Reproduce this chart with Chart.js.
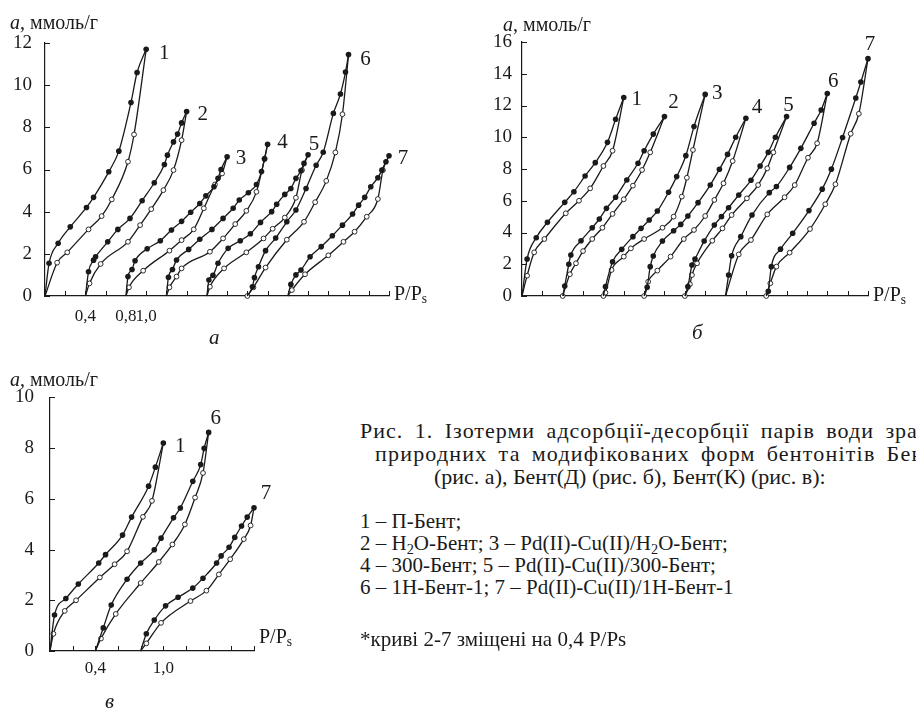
<!DOCTYPE html>
<html lang="uk">
<head>
<meta charset="utf-8">
<title>Ізотерми адсорбції-десорбції парів води</title>
<script src="https://cdn.jsdelivr.net/npm/chart.js@4/dist/chart.umd.min.js"></script>
<style>
    body {
        margin: 0;
        width: 916px;
        height: 710px;
        position: relative;
        overflow: hidden;
        background: #fff;
        color: #1a1a1a;
        font-family: "Liberation Serif", "Times New Roman", serif;
    }
    canvas { position: absolute; }
    .txt { position: absolute; white-space: nowrap; line-height: 1; font-size: 20px; }
    .letra { position: absolute; font-style: italic; font-size: 21px; line-height: 1; }
    .legenda { position: absolute; left: 360px; white-space: nowrap; font-size: 21px; line-height: 22px; }
    .titulo { position: absolute; white-space: nowrap; font-size: 22px; line-height: 23px; }
    sub { font-size: 68%; vertical-align: -0.25em; line-height: 0; }
</style>
</head>
<body>
<canvas id="graficoA" width="430" height="345" style="left:0;top:0"></canvas>
<canvas id="graficoB" width="456" height="345" style="left:460px;top:0"></canvas>
<canvas id="graficoC" width="300" height="340" style="left:0;top:370px"></canvas>

<div class="txt" style="left:10px;top:12px"><i>a</i>, ммоль/г</div>
<div class="txt" style="left:503px;top:14px"><i>a</i>, ммоль/г</div>
<div class="txt" style="left:10px;top:369px"><i>a</i>, ммоль/г</div>

<div class="txt" style="left:394px;top:283px">P/P<sub>s</sub></div>
<div class="txt" style="left:873px;top:284px">P/P<sub>s</sub></div>
<div class="txt" style="left:259px;top:626px">P/P<sub>s</sub></div>

<div class="letra" style="left:209px;top:327px">а</div>
<div class="letra" style="left:692px;top:322px">б</div>
<div class="letra" style="left:105px;top:691px">в</div>

<div class="titulo" style="top:419px;left:360px;letter-spacing:1px;word-spacing:5px">Рис. 1. Ізотерми адсорбції-десорбції парів води зразками</div>
<div class="titulo" style="top:442px;left:375px;letter-spacing:1.2px;word-spacing:4.4px">природних та модифікованих форм бентонітів Бент(Ч)</div>
<div class="titulo" style="top:465px;left:434px">(рис. а), Бент(Д) (рис. б), Бент(К) (рис. в):</div>
<div class="legenda" style="top:510px">
    1 – П-Бент;<br>
    2 – H<sub>2</sub>O-Бент; 3 – Pd(II)-Cu(II)/H<sub>2</sub>O-Бент;<br>
    4 – 300-Бент; 5 – Pd(II)-Cu(II)/300-Бент;<br>
    6 – 1Н-Бент-1; 7 – Pd(II)-Cu(II)/1Н-Бент-1
</div>
<div class="legenda" style="top:628px">*криві 2-7 зміщені на 0,4 P/Ps</div>

<script>
// ---- рис. а: Бент(Ч) ----
const curvasA = ["1", "2", "3", "4", "5", "6", "7"];
const superiorA = [
    [[0, 0], [0.04, 1.55], [0.13, 2.5], [0.25, 3.28], [0.41, 4.2], [0.48, 4.68], [0.63, 5.89], [0.73, 6.87], [0.85, 9.18], [0.91, 10.6], [1.0, 11.7]],
    [[0.4, 0], [0.43, 1.15], [0.48, 1.7], [0.5, 1.86], [0.62, 2.57], [0.72, 3.16], [0.84, 3.68], [0.96, 4.52], [1.08, 5.37], [1.18, 6.24], [1.21, 6.68], [1.27, 7.31], [1.31, 7.68], [1.35, 8.21], [1.4, 8.75]],
    [[0.8, 0], [0.82, 0.92], [0.86, 1.26], [0.89, 1.67], [1.01, 2.24], [1.14, 2.62], [1.25, 3.13], [1.35, 3.54], [1.44, 3.97], [1.53, 4.39], [1.59, 4.75], [1.67, 5.18], [1.71, 5.58], [1.74, 6.0], [1.8, 6.6]],
    [[1.2, 0], [1.22, 0.89], [1.26, 1.26], [1.3, 1.71], [1.42, 2.21], [1.53, 2.69], [1.65, 3.16], [1.76, 3.68], [1.86, 4.16], [1.92, 4.55], [2.01, 4.9], [2.09, 5.29], [2.14, 5.9], [2.17, 6.5], [2.2, 7.2]],
    [[1.6, 0], [1.62, 0.76], [1.66, 0.98], [1.71, 1.55], [1.81, 2.26], [1.93, 2.62], [2.03, 2.95], [2.13, 3.49], [2.24, 4.0], [2.29, 4.35], [2.37, 4.82], [2.43, 5.1], [2.48, 5.58], [2.53, 5.94], [2.56, 6.29], [2.6, 6.7]],
    [[2.0, 0], [2.05, 0.44], [2.07, 0.87], [2.11, 1.39], [2.18, 2.15], [2.28, 2.75], [2.39, 3.52], [2.48, 4.08], [2.58, 5.1], [2.68, 6.2], [2.75, 6.82], [2.85, 8.66], [2.92, 9.58], [2.97, 10.62], [3.0, 11.45]],
    [[2.4, 0], [2.43, 0.55], [2.48, 1.0], [2.53, 1.23], [2.62, 1.86], [2.73, 2.34], [2.84, 2.86], [2.94, 3.36], [3.04, 3.89], [3.1, 4.31], [3.16, 4.68], [3.22, 5.18], [3.29, 5.61], [3.33, 5.97], [3.37, 6.37], [3.4, 6.65]],
];
const inferiorA = [
    [[0, 0], [0.12, 1.58], [0.22, 2.07], [0.43, 3.16], [0.56, 3.79], [0.66, 4.58], [0.82, 6.37], [0.88, 7.66], [1.0, 11.7]],
    [[0.4, 0], [0.44, 0.6], [0.55, 1.52], [0.82, 2.57], [0.94, 3.36], [1.05, 4.12], [1.17, 5.02], [1.27, 5.97], [1.35, 7.39], [1.4, 8.75]],
    [[0.8, 0], [0.83, 0.41], [0.97, 1.2], [1.23, 2.15], [1.35, 2.65], [1.47, 3.16], [1.57, 4.16], [1.68, 5.29], [1.75, 5.81], [1.8, 6.6]],
    [[1.2, 0], [1.23, 0.41], [1.3, 0.92], [1.35, 1.31], [1.63, 2.1], [1.76, 2.73], [1.88, 3.41], [1.99, 4.04], [2.09, 4.94], [2.17, 6.52], [2.2, 7.2]],
    [[1.6, 0], [1.63, 0.44], [1.77, 1.31], [1.99, 2.07], [2.16, 2.73], [2.25, 3.19], [2.37, 3.72], [2.48, 4.66], [2.54, 5.97], [2.6, 6.7]],
    [[2.0, 0], [2.06, 0.41], [2.18, 1.35], [2.39, 2.67], [2.56, 3.52], [2.67, 4.45], [2.78, 5.46], [2.87, 6.81], [2.94, 8.62], [3.0, 11.45]],
    [[2.4, 0], [2.44, 0.28], [2.57, 1.03], [2.8, 1.93], [2.95, 2.57], [3.06, 3.05], [3.18, 3.76], [3.29, 4.6], [3.34, 5.97], [3.4, 6.65]],
];
const inicioAbertoA = [false, false, false, false, false, true, false];
const ticksYA = [0, 2, 4, 6, 8, 10, 12];
const valoresXA = [0.4, 0.8, 1.0];
const rotulosXA = ["0,4", "0,8", "1,0"];

// ---- рис. б: Бент(Д) ----
const curvasB = ["1", "2", "3", "4", "5", "6", "7"];
const superiorB = [
    [[0, 0], [0.05, 2.33], [0.14, 3.67], [0.25, 4.64], [0.42, 5.9], [0.51, 6.57], [0.62, 7.56], [0.72, 8.4], [0.84, 9.68], [0.92, 11.13], [1.0, 12.5]],
    [[0.4, 0], [0.42, 0.63], [0.46, 2.0], [0.48, 2.58], [0.58, 3.48], [0.69, 4.3], [0.76, 4.85], [0.83, 5.52], [0.92, 6.22], [1.03, 7.31], [1.14, 8.36], [1.2, 9.15], [1.29, 10.2], [1.4, 11.3]],
    [[0.8, 0], [0.82, 0.59], [0.89, 2.16], [0.98, 2.94], [1.09, 3.74], [1.17, 4.26], [1.25, 4.79], [1.33, 5.35], [1.44, 6.53], [1.52, 7.52], [1.61, 8.84], [1.69, 10.67], [1.8, 12.7]],
    [[1.2, 0], [1.23, 0.55], [1.26, 1.85], [1.29, 2.52], [1.38, 3.46], [1.49, 4.11], [1.56, 4.51], [1.63, 5.04], [1.73, 5.88], [1.85, 6.99], [1.94, 7.98], [2.02, 8.92], [2.1, 10.0], [2.2, 11.2]],
    [[1.6, 0], [1.63, 0.59], [1.67, 1.95], [1.7, 2.33], [1.79, 3.46], [1.89, 4.47], [1.96, 5.0], [2.03, 5.56], [2.13, 6.36], [2.25, 7.29], [2.34, 8.19], [2.42, 9.05], [2.49, 10.0], [2.6, 11.3]],
    [[2.0, 0], [2.03, 1.32], [2.06, 2.54], [2.15, 3.74], [2.26, 5.1], [2.43, 6.51], [2.5, 6.89], [2.63, 8.1], [2.74, 9.3], [2.87, 10.88], [2.94, 11.72], [3.0, 12.75]],
    [[2.4, 0], [2.42, 0.3], [2.45, 1.85], [2.54, 2.95], [2.66, 3.95], [2.82, 5.38], [2.95, 6.73], [3.04, 7.99], [3.15, 9.98], [3.28, 12.47], [3.33, 13.48], [3.4, 14.95]],
];
const inferiorB = [
    [[0, 0], [0.05, 1.28], [0.12, 2.75], [0.22, 3.59], [0.43, 5.21], [0.56, 6.0], [0.67, 6.78], [0.8, 8.19], [0.89, 9.15], [1.0, 12.5]],
    [[0.4, 0], [0.47, 1.37], [0.53, 2.06], [0.6, 2.83], [0.69, 3.59], [0.79, 4.3], [0.89, 5.17], [1.0, 6.09], [1.09, 6.95], [1.18, 7.94], [1.26, 9.05], [1.4, 11.3]],
    [[0.8, 0], [0.82, 0.21], [0.88, 1.64], [1.0, 2.48], [1.07, 3.0], [1.2, 3.59], [1.38, 4.3], [1.49, 5.0], [1.57, 6.26], [1.62, 7.45], [1.68, 9.2], [1.8, 12.7]],
    [[1.2, 0], [1.24, 0.9], [1.33, 1.6], [1.46, 2.48], [1.59, 3.59], [1.69, 4.16], [1.8, 5.04], [1.89, 6.05], [1.98, 7.1], [2.07, 8.5], [2.2, 11.2]],
    [[1.6, 0], [1.65, 0.74], [1.67, 1.32], [1.72, 2.06], [1.87, 3.48], [1.97, 4.26], [2.06, 5.1], [2.21, 6.15], [2.32, 6.99], [2.41, 8.04], [2.47, 9.05], [2.6, 11.3]],
    [[2.0, 0], [2.13, 2.62], [2.25, 3.53], [2.41, 5.14], [2.58, 6.22], [2.68, 6.99], [2.81, 8.71], [2.9, 9.62], [3.0, 12.75]],
    [[2.4, 0], [2.44, 0.8], [2.5, 1.85], [2.63, 2.73], [2.83, 4.22], [2.98, 5.78], [3.08, 7.04], [3.23, 10.22], [3.31, 11.48], [3.4, 14.95]],
];
const inicioAbertoB = [false, true, true, true, true, false, true];
const ticksYB = [0, 2, 4, 6, 8, 10, 12, 14, 16];

// ---- рис. в: Бент(К) ----
const curvasC = ["1", "6", "7"];
const superiorC = [
    [[0, 0], [0.04, 1.42], [0.14, 2.07], [0.25, 2.64], [0.43, 3.47], [0.49, 3.8], [0.64, 4.57], [0.72, 5.28], [0.87, 6.5], [0.93, 7.25], [1.0, 8.2]],
    [[0.4, 0], [0.47, 0.91], [0.54, 1.81], [0.68, 2.83], [0.8, 3.47], [0.92, 3.99], [0.98, 4.45], [1.09, 5.25], [1.15, 5.64], [1.26, 6.69], [1.33, 7.35], [1.36, 7.99], [1.4, 8.62]],
    [[0.8, 0], [0.85, 0.68], [0.92, 1.22], [1.02, 1.78], [1.13, 2.12], [1.26, 2.48], [1.35, 2.87], [1.47, 3.47], [1.51, 3.75], [1.58, 4.09], [1.63, 4.48], [1.69, 4.93], [1.74, 5.28], [1.8, 5.65]],
];
const inferiorC = [
    [[0, 0], [0.03, 0.68], [0.13, 1.58], [0.23, 2.0], [0.44, 2.9], [0.57, 3.42], [0.68, 3.93], [0.82, 5.29], [0.9, 5.92], [1.0, 8.2]],
    [[0.4, 0], [0.45, 0.49], [0.58, 1.46], [0.8, 2.68], [0.96, 3.51], [1.08, 4.2], [1.19, 4.99], [1.28, 6.05], [1.35, 7.02], [1.4, 8.62]],
    [[0.8, 0], [0.85, 0.3], [0.98, 1.11], [1.24, 1.97], [1.38, 2.38], [1.49, 3.02], [1.59, 3.62], [1.71, 4.41], [1.77, 4.95], [1.8, 5.65]],
];
const inicioAbertoC = [false, false, false];
const ticksYC = [0, 2, 4, 6, 8, 10];
const valoresXC = [0.4, 1.0];
const rotulosXC = ["0,4", "1,0"];

const FONTE = '"Liberation Serif", "Times New Roman", serif';
const TINTA = "#1a1a1a";

// marcas para dentro dos eixos e números das curvas
const pluginEixos = {
    id: "eixos",
    afterDraw(chart, args, opts) {
        const ctx = chart.ctx;
        const { left, bottom } = chart.chartArea;
        const sx = chart.scales.x;
        const sy = chart.scales.y;
        ctx.save();
        ctx.strokeStyle = TINTA;
        ctx.lineWidth = 1;
        ctx.beginPath();
        sx.ticks.forEach((t) => {
            const px = Math.round(sx.getPixelForValue(t.value)) + 0.5;
            ctx.moveTo(px, bottom);
            ctx.lineTo(px, bottom - 5);
        });
        sy.ticks.forEach((t) => {
            const py = Math.round(sy.getPixelForValue(t.value)) + 0.5;
            ctx.moveTo(left, py);
            ctx.lineTo(left + 5, py);
        });
        ctx.stroke();

        ctx.fillStyle = TINTA;
        ctx.font = "21px " + FONTE;
        ctx.textAlign = "center";
        ctx.textBaseline = "middle";
        opts.nomes.forEach((nome, i) => {
            const pontos = chart.getDatasetMeta(2 * i).data;
            const fim = pontos[pontos.length - 1];
            const [dx, dy] = opts.desvios[i];
            ctx.fillText(nome, fim.x + dx, fim.y + dy);
        });
        ctx.restore();
    },
};

function montarConjuntos(superior, inferior, inicioAberto) {
    const conjuntos = [];
    superior.forEach((ramo, i) => {
        conjuntos.push({
            data: ramo.map(([x, y]) => ({ x, y })),
            borderColor: TINTA,
            borderWidth: 1.3,
            cubicInterpolationMode: "monotone",
            pointRadius: (c) => (c.dataIndex === 0 ? 0 : 2.8),
            pointBackgroundColor: TINTA,
            pointBorderWidth: 0,
            clip: false,
        });
        const inf = inferior[i];
        conjuntos.push({
            data: inf.map(([x, y]) => ({ x, y })),
            borderColor: TINTA,
            borderWidth: 1.3,
            cubicInterpolationMode: "monotone",
            pointRadius: (c) => {
                if (c.dataIndex === inf.length - 1) return 0;
                if (c.dataIndex === 0) return inicioAberto[i] ? 2.4 : 0;
                return 2.4;
            },
            pointBackgroundColor: "#fff",
            pointBorderColor: TINTA,
            pointBorderWidth: 0.9,
            clip: false,
        });
    });
    return conjuntos;
}

function rotuloX(valores, rotulos) {
    return (v) => {
        const k = valores.findIndex((a) => Math.abs(a - v) < 1e-6);
        return k >= 0 ? rotulos[k] : "";
    };
}

function criarPainel(id, cfg) {
    const ctx = document.getElementById(id).getContext("2d");
    new Chart(ctx, {
        type: "line",
        data: { datasets: montarConjuntos(cfg.superior, cfg.inferior, cfg.inicioAberto) },
        plugins: [pluginEixos],
        options: {
            responsive: false,
            animation: false,
            events: [],
            layout: { padding: cfg.padding },
            plugins: {
                legend: { display: false },
                tooltip: { enabled: false },
                eixos: { nomes: cfg.nomes, desvios: cfg.desvios },
            },
            scales: {
                x: {
                    type: "linear",
                    min: 0,
                    max: cfg.xMax,
                    grid: { display: false, drawTicks: false },
                    border: { color: TINTA, width: 1.2 },
                    afterFit: (s) => { s.height = cfg.alturaX; },
                    afterBuildTicks: (s) => {
                        const n = Math.round(cfg.xMax / 0.2);
                        s.ticks = Array.from({ length: n + 1 }, (_, k) => ({ value: +(k * 0.2).toFixed(1) }));
                    },
                    ticks: {
                        autoSkip: false,
                        maxRotation: 0,
                        padding: cfg.padX,
                        color: TINTA,
                        font: { family: FONTE, size: 17 },
                        callback: rotuloX(cfg.valoresX, cfg.rotulosX),
                    },
                },
                y: {
                    min: 0,
                    max: cfg.ticksY[cfg.ticksY.length - 1],
                    grid: { display: false, drawTicks: false },
                    border: { color: TINTA, width: 1.2 },
                    afterFit: (s) => { s.width = cfg.larguraY; },
                    afterBuildTicks: (s) => { s.ticks = cfg.ticksY.map((v) => ({ value: v })); },
                    ticks: {
                        padding: cfg.padY,
                        color: TINTA,
                        font: { family: FONTE, size: 19 },
                    },
                },
            },
        },
    });
}

criarPainel("graficoA", {
    superior: superiorA, inferior: inferiorA, inicioAberto: inicioAbertoA,
    nomes: curvasA,
    desvios: [[18, 4], [16, 3], [14, 2], [15, -2], [6, -10], [17, 5], [14, 3]],
    xMax: 3.4, ticksY: ticksYA, valoresX: valoresXA, rotulosX: rotulosXA,
    padding: { left: 0, top: 43, right: 41, bottom: 0 },
    larguraY: 45, alturaX: 49, padX: 10, padY: 13,
});

criarPainel("graficoB", {
    superior: superiorB, inferior: inferiorB, inicioAberto: inicioAbertoB,
    nomes: curvasB,
    desvios: [[13, 2], [9, -14], [12, -1], [11, -11], [2, -11], [6, -12], [2, -14]],
    xMax: 3.4, ticksY: ticksYB, valoresX: [], rotulosX: [],
    padding: { left: 0, top: 42, right: 48, bottom: 0 },
    larguraY: 62, alturaX: 49, padX: 10, padY: 10,
});

criarPainel("graficoC", {
    superior: superiorC, inferior: inferiorC, inicioAberto: inicioAbertoC,
    nomes: curvasC,
    desvios: [[17, 3], [7, -14], [12, -14]],
    xMax: 1.8, ticksY: ticksYC, valoresX: valoresXC, rotulosX: rotulosXC,
    padding: { left: 0, top: 22, right: 46, bottom: 0 },
    larguraY: 50, alturaX: 59, padX: 7, padY: 16,
});
</script>
</body>
</html>
